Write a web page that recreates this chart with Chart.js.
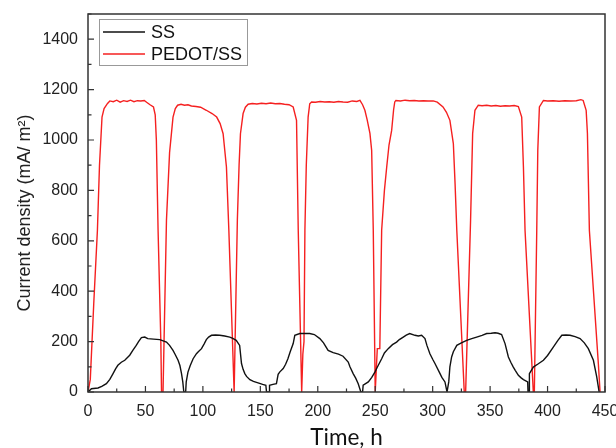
<!DOCTYPE html>
<html>
<head>
<meta charset="utf-8">
<script src="https://cdn.jsdelivr.net/npm/chart.js@4"></script>
<style>
  html, body { margin: 0; padding: 0; background: #fff; }
  #wrap { width: 616px; height: 448px; }
</style>
</head>
<body>
<div id="wrap"><canvas id="cdChart"></canvas></div>
<script>
// SS (bare steel) current density vs time
const ssTime = [0, 3, 8.7, 12, 16, 19, 21.8, 24, 26, 29, 32, 36.3, 39, 42, 44, 46.5, 49.4, 52, 57, 62.5, 66, 68.3, 71, 74, 76, 78.4, 80, 81.4, 82.5, 83.4,
    85, 85.5, 87, 89, 91.5, 94.4, 96, 98.8, 101, 103, 105, 107.5, 111, 114.7, 119, 123.4, 126, 129, 132, 133.6, 135, 136.5, 138, 140.9, 144, 148, 152, 154.8, 155.4,
    157.7, 158, 161, 164, 165.5, 167, 169.9, 172, 174, 176, 178.6, 180, 184.4, 189, 193, 197, 201.8, 205, 209, 213.4, 218, 222, 226.5, 228, 230.8, 233, 235.2, 237.5,
    239, 239.5, 244, 247, 249.7, 252, 255.6, 258, 261.3, 265, 268.6, 271, 274.4, 277, 280, 284.6, 287.5, 290.4, 293.3, 295, 297.6, 300, 302, 306.4, 308, 310.7, 312.5,
    313.3, 314, 315, 316.5, 318, 321, 325, 329.6, 334, 338.3, 343, 347, 351, 354.3, 357, 360, 363, 365.9, 368, 370.2, 372, 374.6, 377, 379, 382.7, 383,
    384, 384.2, 387.6, 392, 396.4, 400, 405, 409, 412.4, 416, 419.6, 424, 428.3, 432, 435.5, 439.9, 442.8, 444.9];
const ssValues = [0, 13, 16, 22, 33, 50, 73, 92, 106, 118, 126, 146, 165, 185, 200, 216, 218, 212, 210, 208, 202, 198, 185, 165, 148, 126, 105, 73, 40, 0,
    0, 40, 79, 105, 132, 152, 160, 172, 190, 208, 218, 225, 226, 225, 222, 218, 213, 205, 185, 113, 90, 73, 62, 49, 42, 36, 30, 27, 0,
    0, 27, 30, 33, 70, 80, 93, 110, 132, 160, 192, 225, 232, 232, 232, 228, 212, 195, 165, 156, 150, 142, 119, 100, 73, 55, 33, 0,
    0, 27, 40, 58, 79, 100, 132, 155, 172, 188, 198, 208, 218, 226, 232, 225, 222, 225, 212, 185, 152, 130, 113, 73, 58, 40, 0,
    0, 40, 100, 139, 160, 185, 195, 205, 212, 218, 225, 232, 233, 235, 233, 228, 192, 139, 118, 99, 85, 66, 56, 49, 40, 0,
    0, 73, 99, 112, 126, 145, 178, 205, 225, 226, 225, 220, 212, 195, 172, 126, 60, 0];

// PEDOT/SS current density vs time
const pedotTime = [0, 2, 5, 8.2, 10, 12.2, 14, 17, 19, 22, 25, 28, 31, 34, 37, 40, 43, 46, 49, 51, 54, 57, 58.5, 59.5, 61, 63.4, 64,
    65.3, 68.3, 71, 74, 76, 78, 81, 84, 87, 90, 94, 98, 103, 108, 112, 115, 117.6, 120.5, 122.6, 127.2,
    127.8, 130, 131.5, 132.7, 135, 137, 139.4, 143, 147, 151, 155, 159, 163, 167, 171, 175, 178.6, 181.5, 183, 186,
    187, 188, 188.8, 190, 191.6, 193, 194.6, 198, 202, 206, 210, 214, 218, 222, 226, 230, 234, 236.7, 239, 241, 243, 245.4, 246.9, 248.3, 250,
    250.6, 251.8, 254, 255.6, 258, 260, 262, 264.3, 266, 267, 268, 272, 276, 280, 284, 288, 292, 296, 300.5, 304, 309, 312, 315, 318, 319.5, 321, 327.5,
    328.7, 333, 334.8, 336.8, 339.7, 343, 347, 351, 355, 359, 363, 367, 371, 374.6, 377.5, 379, 380.4, 387.6,
    388.5, 390.6, 391.5, 392.9, 396.4, 400, 405, 410, 415, 420, 425, 429, 431, 433.6, 434.7, 436.4, 444.2, 445.7];
const pedotValues = [0, 50, 350, 642, 900, 1091, 1125, 1145, 1155, 1152, 1158, 1150, 1156, 1153, 1158, 1152, 1156, 1155, 1157, 1150, 1140, 1131, 1100, 1000, 642, 200, 0,
    0, 682, 950, 1091, 1125, 1138, 1142, 1138, 1140, 1135, 1133, 1130, 1118, 1105, 1091, 1065, 1025, 893, 642, 0,
    0, 682, 900, 1025, 1105, 1130, 1142, 1145, 1143, 1146, 1144, 1147, 1144, 1145, 1142, 1140, 1131, 1078, 642, 0,
    150, 200, 642, 900, 1091, 1144, 1151, 1150, 1153, 1151, 1152, 1150, 1153, 1151, 1150, 1155, 1153, 1157, 1140, 1118, 1080, 1026, 959, 642, 0,
    0, 172, 172, 642, 800, 893, 980, 1038, 1120, 1151, 1157, 1155, 1158, 1156, 1157, 1155, 1156, 1155, 1155, 1150, 1131, 1110, 1078, 986, 827, 642, 0,
    0, 682, 1026, 1118, 1138, 1136, 1138, 1135, 1137, 1134, 1136, 1135, 1137, 1133, 1091, 893, 642, 0,
    0, 642, 959, 1131, 1157, 1155, 1156, 1154, 1156, 1155, 1156, 1160, 1157, 1118, 1026, 642, 113, 0];

const xTicks = [0, 50, 100, 150, 200, 250, 300, 350, 400, 450];
const yTicks = [0, 200, 400, 600, 800, 1000, 1200, 1400];

function toPoints(xs, ys) {
    return xs.map(function (x, i) { return { x: x, y: ys[i] }; });
}

// frame, inward ticks and boxed legend like the Origin plot
const framePlugin = {
    id: 'frame',
    afterDraw: function (chart) {
        const ctx = chart.ctx;
        const area = chart.chartArea;
        const xs = chart.scales.x;
        const ys = chart.scales.y;
        ctx.save();
        ctx.strokeStyle = '#333';
        ctx.lineWidth = 1.5;
        ctx.strokeRect(area.left, area.top, area.right - area.left, area.bottom - area.top);

        ctx.lineWidth = 1.2;
        ctx.beginPath();
        for (let v = 0; v <= 450; v += 25) {
            const px = xs.getPixelForValue(v);
            const len = v % 50 === 0 ? 6 : 3.5;
            ctx.moveTo(px, area.bottom);
            ctx.lineTo(px, area.bottom - len);
        }
        for (let v = 0; v <= 1500; v += 100) {
            const py = ys.getPixelForValue(v);
            const len = v % 200 === 0 ? 6 : 3.5;
            ctx.moveTo(area.left, py);
            ctx.lineTo(area.left + len, py);
        }
        ctx.stroke();

        // legend
        ctx.strokeStyle = '#999';
        ctx.lineWidth = 1;
        ctx.strokeRect(99.5, 19.5, 148, 46);
        ctx.font = '18px "Liberation Sans", Arial, sans-serif';
        ctx.textBaseline = 'middle';
        chart.data.datasets.forEach(function (ds, i) {
            const y = 32 + i * 22;
            ctx.strokeStyle = ds.borderColor;
            ctx.lineWidth = 1.5;
            ctx.beginPath();
            ctx.moveTo(103, y);
            ctx.lineTo(145, y);
            ctx.stroke();
            ctx.fillStyle = '#111';
            ctx.fillText(ds.label, 151, y + 1);
        });
        ctx.restore();
    }
};

const tickFont = { family: '"Liberation Sans", Arial, sans-serif', size: 16 };

new Chart(document.getElementById('cdChart'), {
    type: 'line',
    data: {
        datasets: [
            {
                label: 'SS',
                data: toPoints(ssTime, ssValues),
                borderColor: '#111111',
                borderWidth: 1.4,
                pointRadius: 0,
                tension: 0
            },
            {
                label: 'PEDOT/SS',
                data: toPoints(pedotTime, pedotValues),
                borderColor: '#f52020',
                borderWidth: 1.4,
                pointRadius: 0,
                tension: 0
            }
        ]
    },
    options: {
        responsive: true,
        maintainAspectRatio: false,
        animation: false,
        layout: { padding: { top: 14, right: 11, left: 0, bottom: 0 } },
        plugins: {
            legend: { display: false },
            tooltip: { enabled: false }
        },
        scales: {
            x: {
                type: 'linear',
                min: 0,
                max: 450,
                grid: { display: false, drawTicks: false },
                border: { display: false },
                afterBuildTicks: function (scale) {
                    scale.ticks = xTicks.map(function (v) { return { value: v }; });
                },
                afterFit: function (scale) {
                    scale.height = 56;
                    scale.paddingLeft = 0;
                    scale.paddingRight = 0;
                },
                ticks: {
                    color: '#222',
                    padding: 10,
                    maxRotation: 0,
                    font: tickFont,
                    callback: function (value) { return String(value); }
                },
                title: {
                    display: true,
                    text: 'Time, h',
                    color: '#111',
                    padding: { top: 0, bottom: -1 },
                    font: { family: 'Lato, "Open Sans", sans-serif', size: 22.5, lineHeight: 1 }
                }
            },
            y: {
                min: 0,
                max: 1500,
                grid: { display: false, drawTicks: false },
                border: { display: false },
                afterBuildTicks: function (scale) {
                    scale.ticks = yTicks.map(function (v) { return { value: v }; });
                },
                afterFit: function (scale) {
                    scale.width = 88;
                    scale.paddingTop = 0;
                    scale.paddingBottom = 0;
                },
                ticks: {
                    color: '#222',
                    padding: 10,
                    font: tickFont,
                    callback: function (value) { return String(value); }
                },
                title: {
                    display: true,
                    text: 'Current density (mA/ m\u00b2)\u00a0\u00a0\u00a0\u00a0',
                    color: '#222',
                    padding: { top: 14, bottom: 0 },
                    font: { family: '"Liberation Sans", Arial, sans-serif', size: 18 }
                }
            }
        }
    },
    plugins: [framePlugin]
});
</script>
</body>
</html>
